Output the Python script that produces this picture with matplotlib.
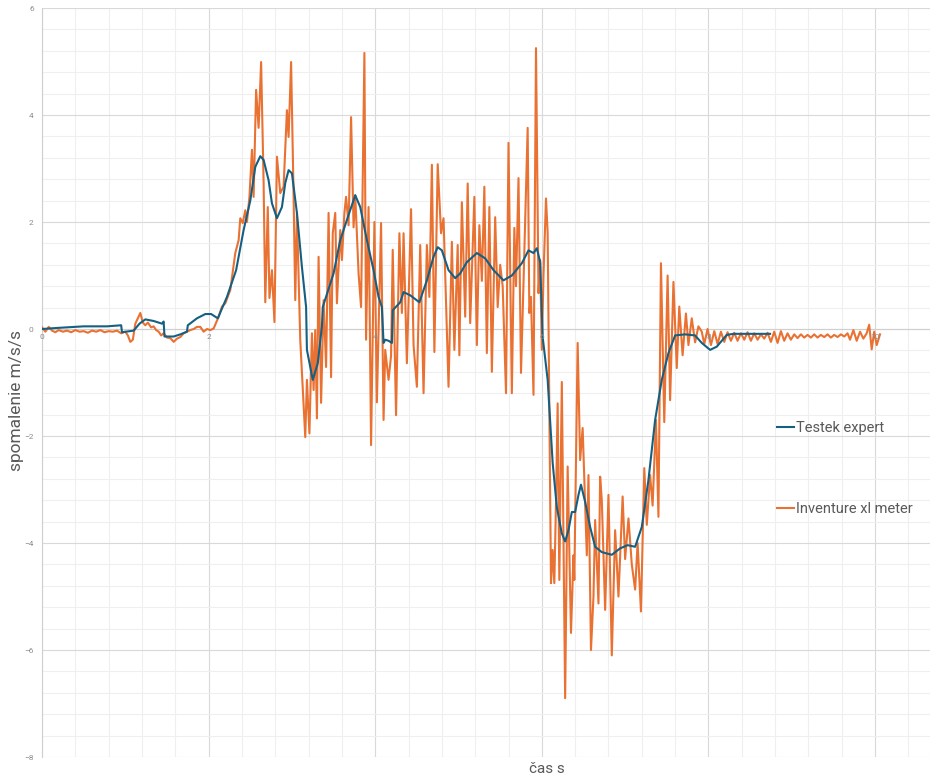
import matplotlib
matplotlib.use("Agg")
import matplotlib.pyplot as plt
from matplotlib.ticker import MultipleLocator

plt.rcParams['font.family'] = ['Roboto', 'DejaVu Sans']

# Testek expert - smoothed deceleration
testek_t = [0, 0.18, 0.5, 0.78, 0.95, 0.96, 1.1, 1.17, 1.24, 1.34, 1.44, 1.46, 1.47, 1.58, 1.66,
            1.74, 1.75, 1.86, 1.96, 2.03, 2.11, 2.22, 2.33, 2.42, 2.5, 2.56, 2.62, 2.66, 2.72,
            2.76, 2.82, 2.88, 2.92, 2.96, 3.0, 3.06, 3.12, 3.17, 3.18, 3.25, 3.31, 3.36, 3.37,
            3.5, 3.58, 3.66, 3.76, 3.82, 3.9, 3.98, 4.04, 4.08, 4.1, 4.12, 4.16, 4.2, 4.21, 4.3,
            4.34, 4.42, 4.53, 4.62, 4.7, 4.75, 4.8, 4.88, 4.96, 5.02, 5.1, 5.22, 5.32, 5.42,
            5.54, 5.64, 5.76, 5.84, 5.9, 5.94, 5.98, 6.01, 6.07, 6.13, 6.18, 6.24, 6.28, 6.32,
            6.36, 6.4, 6.44, 6.47, 6.52, 6.58, 6.64, 6.72, 6.84, 6.94, 7.03, 7.12, 7.2, 7.28,
            7.36, 7.44, 7.52, 7.6, 7.72, 7.84, 7.92, 8.02, 8.1, 8.22, 8.3, 8.5, 8.74]
testek_v = [0, 0.02, 0.05, 0.05, 0.07, -0.06, -0.03, 0.1, 0.18, 0.15, 0.1, 0.14, -0.14, -0.14, -0.1,
            -0.05, 0.07, 0.2, 0.28, 0.28, 0.2, 0.6, 1.1, 1.85, 2.4, 3.03, 3.23, 3.16, 2.78,
            2.35, 2.07, 2.28, 2.73, 2.97, 2.91, 2.17, 1.16, 0.41, -0.39, -0.95, -0.64, 0.05, 0.41,
            1.04, 1.66, 2.04, 2.5, 2.28, 1.66, 1.1, 0.6, 0.41, -0.26, -0.2, -0.22, -0.26, 0.35, 0.5,
            0.69, 0.63, 0.5, 0.91, 1.35, 1.53, 1.47, 1.1, 0.95, 1.04, 1.25, 1.42, 1.32, 1.1,
            0.91, 1.0, 1.23, 1.47, 1.42, 1.51, 1.25, -0.15, -0.95, -2.5, -3.33, -3.82, -3.97, -3.76,
            -3.42, -3.42, -3.1, -2.91, -3.23, -3.7, -4.07, -4.17, -4.22, -4.1, -4.04, -4.07, -3.7, -2.82,
            -1.7, -0.95, -0.45, -0.12, -0.1, -0.12, -0.26, -0.39, -0.33, -0.11, -0.09, -0.09, -0.09]

# Inventure xl meter - raw accelerometer
inventure_t = [0, 0.04, 0.08, 0.12, 0.16, 0.2, 0.25, 0.3, 0.35, 0.4, 0.45, 0.5, 0.55, 0.6, 0.65,
               0.7, 0.75, 0.8, 0.85, 0.9, 0.95, 1.0,
               1.03, 1.06, 1.09, 1.12, 1.15, 1.18, 1.21, 1.24, 1.27, 1.31, 1.34, 1.37, 1.4, 1.43,
               1.46, 1.5, 1.54, 1.58, 1.62, 1.66, 1.7, 1.74, 1.78, 1.82, 1.86, 1.9, 1.94, 1.98,
               2.02, 2.06,
               2.12, 2.16, 2.2, 2.26, 2.32, 2.36, 2.38, 2.41, 2.44, 2.46, 2.49, 2.52, 2.54, 2.57,
               2.6, 2.63, 2.66, 2.68, 2.71, 2.73, 2.76, 2.79, 2.82, 2.86, 2.9, 2.94, 2.96, 2.99,
               3.02, 3.04, 3.06, 3.1, 3.16, 3.18, 3.21, 3.24, 3.26, 3.28, 3.3, 3.32, 3.35, 3.38,
               3.41, 3.44, 3.47, 3.49, 3.52, 3.54, 3.58, 3.6, 3.63, 3.65, 3.68, 3.71, 3.74, 3.76,
               3.8, 3.83, 3.87, 3.89, 3.92, 3.95, 3.99,
               4.02, 4.07, 4.1, 4.12, 4.16, 4.19, 4.21, 4.25, 4.29, 4.32, 4.34, 4.38, 4.43, 4.46,
               4.5, 4.54, 4.58, 4.62, 4.65, 4.68, 4.71, 4.75, 4.79, 4.82, 4.88, 4.92, 4.95, 4.99,
               5.01, 5.04, 5.08, 5.11, 5.14, 5.19, 5.22, 5.25, 5.28, 5.31, 5.34, 5.37, 5.4, 5.44,
               5.47, 5.5, 5.53, 5.57, 5.6, 5.64, 5.67, 5.69, 5.72, 5.75, 5.78, 5.83, 5.85, 5.87,
               5.9, 5.93, 5.96, 5.98, 6.0, 6.02, 6.05, 6.07,
               6.11, 6.13, 6.15, 6.17, 6.19, 6.21, 6.24, 6.28, 6.31, 6.35, 6.38, 6.39, 6.43, 6.46,
               6.49, 6.54, 6.56, 6.59, 6.62, 6.64, 6.68, 6.7, 6.72, 6.76, 6.8, 6.84, 6.88, 6.92,
               6.97, 7.0, 7.04, 7.08, 7.12, 7.15, 7.19, 7.23, 7.26, 7.3, 7.33, 7.37, 7.4, 7.43,
               7.47, 7.51, 7.54, 7.58, 7.62, 7.65, 7.69, 7.73, 7.76, 7.8, 7.84, 7.88,
               7.92, 7.95, 7.99, 8.03, 8.07, 8.11, 8.15, 8.19, 8.23, 8.27, 8.31, 8.35, 8.39, 8.43,
               8.47, 8.51, 8.55, 8.59, 8.63, 8.67, 8.71, 8.75, 8.79, 8.83, 8.87, 8.91, 8.95, 8.99,
               9.03, 9.07, 9.11, 9.15, 9.19, 9.23, 9.27, 9.31, 9.35, 9.39, 9.43, 9.47, 9.51, 9.55,
               9.59, 9.63, 9.67, 9.7, 9.74, 9.78, 9.82, 9.86, 9.9, 9.93, 9.96, 9.99, 10.02, 10.06]
inventure_v = [0.03, -0.05, 0.04, -0.03, -0.06, -0.02, -0.05, -0.03, -0.06, -0.02, -0.05, -0.04, -0.07, -0.03, -0.05,
               -0.02, -0.06, -0.04, -0.05, -0.03, -0.08, -0.05,
               -0.12, -0.24, -0.2, 0.1, 0.2, 0.3, 0.12, 0.07, 0.12, 0.03, 0.05, -0.02, -0.05, -0.12,
               -0.08, -0.16, -0.17, -0.24, -0.18, -0.15, -0.08, -0.05, -0.02, 0.0, 0.04, 0.04, -0.05, 0.0,
               -0.02, 0.01,
               0.23, 0.42, 0.48, 0.73, 1.42, 1.66, 2.07, 1.98, 2.22, 2.0, 2.47, 3.35, 2.47, 4.47,
               3.76, 4.99, 2.73, 0.5, 2.28, 0.58, 1.1, 0.13, 3.22, 2.54, 2.66, 4.09, 3.59, 4.99,
               2.47, 0.54, 2.17, -0.21, -2.02, -0.95, -1.95, -0.08, -1.14, -0.02, -1.67, 1.35, -1.38, 0.54,
               -0.71, 2.17, -0.9, 1.79, 2.17, 0.48, 1.85, 1.29, 2.17, 2.47, 1.94, 3.96, 1.9, 2.5,
               1.04, 0.41, 5.16, -0.2, 2.28, -2.17, 2.0,
               -1.37, 1.98, -1.7, -0.39, -0.95, -0.5, 1.48, -1.61, 1.79, 0.3, 1.79, -0.64, 2.24, -0.3,
               -1.08, 1.57, -1.2, 1.57, 0.6, 3.07, -0.43, 3.08, 1.79, 2.07, -1.08, 1.63, -0.39, 1.57,
               -0.49, 2.37, 0.23, 2.72, 0.11, 2.47, -0.3, 1.94, 0.9, 2.66, -0.45, 2.28, -0.8, 2.09,
               0.41, 1.2, 0.8, -1.2, 3.48, -1.2, 1.89, 0.8, 2.82, -0.82, 0.86, 3.76, 0.3, 0.6,
               -1.23, 5.25, 0.67, 1.29, -0.39, 1.0, 2.44, 1.8,
               -4.75, -4.13, -4.75, -3.25, -1.39, -4.69, -0.99, -6.9, -2.57, -5.68, -4.23, -4.69, -0.26, -2.45,
               -1.85, -4.23, -2.73, -6.0, -5.0, -3.57, -5.13, -2.76, -3.2, -5.25, -3.1, -6.1, -3.76, -5.0,
               -3.13, -4.3, -3.54, -4.4, -4.87, -4.0, -5.28, -2.6, -3.66, -2.73, -3.3, -1.7, -3.51, 1.23,
               -1.74, 1.0, -1.33, 0.88, -0.73, 0.42, -0.49, 0.29, -0.3, 0.2, -0.25, 0.05,
               -0.05, -0.28, 0.0, -0.3, -0.04, -0.28, -0.05, -0.24, -0.06, -0.22, -0.07, -0.22, -0.08, -0.2,
               -0.06, -0.22, -0.08, -0.2, -0.1, -0.18, -0.07, -0.24, -0.05, -0.26, -0.04, -0.22, -0.08, -0.2,
               -0.1, -0.17, -0.1, -0.16, -0.11, -0.16, -0.1, -0.16, -0.11, -0.15, -0.1, -0.16, -0.11, -0.15,
               -0.1, -0.14, -0.08, -0.2, -0.02, -0.22, -0.05, -0.18, -0.08, 0.08, -0.38, -0.05, -0.3, -0.1]

x_ticks = [0, 2, 4, 6, 8, 10]

fig = plt.figure(figsize=(9.3, 7.77), dpi=100)
ax = fig.add_axes([0.0452, 0.0257, 0.9548, 0.964])

ax.plot(inventure_t, inventure_v, color='#E97132', lw=1.5, label='Inventure xl meter', zorder=3)
ax.plot(testek_t, testek_v, color='#156082', lw=1.5, label='Testek expert', zorder=4)

ax.set_xlim(0, 10.66)
ax.set_ylim(-8, 6)

# grid: major every 2, minor every 0.4
ax.set_xticks(x_ticks)
ax.xaxis.set_minor_locator(MultipleLocator(0.4))
ax.yaxis.set_major_locator(MultipleLocator(2))
ax.yaxis.set_minor_locator(MultipleLocator(0.4))
ax.grid(which='major', color='#d9d9d9', lw=0.8, zorder=0)
ax.grid(which='minor', color='#efefef', lw=0.8, zorder=0)
ax.set_axisbelow(True)

# x axis crosses at y = 0, its labels sit on top of the lines
ax.spines['bottom'].set_position(('data', 0))
ax.spines['bottom'].set_color('#cfcfcf')
ax.spines['left'].set_color('#cfcfcf')
ax.spines['top'].set_visible(False)
ax.spines['right'].set_visible(False)
ax.tick_params(which='both', length=0, labelsize=6, labelcolor='#8c8c8c')
ax.tick_params(axis='x', labelbottom=False)
ax.tick_params(axis='y', pad=6)
for xt in x_ticks:
    ax.text(xt, -0.09, str(xt), ha='center', va='top', fontsize=6, color='#8c8c8c', zorder=6)

ax.set_xlabel('čas s', fontsize=11, color='#595959')
ax.xaxis.set_label_coords(0.569, -0.006)
ax.set_ylabel('spomalenie m/s/s', fontsize=12.5, color='#595959')
ax.yaxis.set_label_coords(-0.02, 0.476)

handles, labels = ax.get_legend_handles_labels()
leg = ax.legend(handles[::-1], labels[::-1], loc='center left', bbox_to_anchor=(0.836, 0.397),
                bbox_transform=fig.transFigure, frameon=False, fontsize=10.5, labelspacing=4.6,
                handlelength=1.1, handletextpad=0.2, borderpad=0, borderaxespad=0)
for t in leg.get_texts():
    t.set_color('#595959')

fig.savefig('out.png', dpi=100)
